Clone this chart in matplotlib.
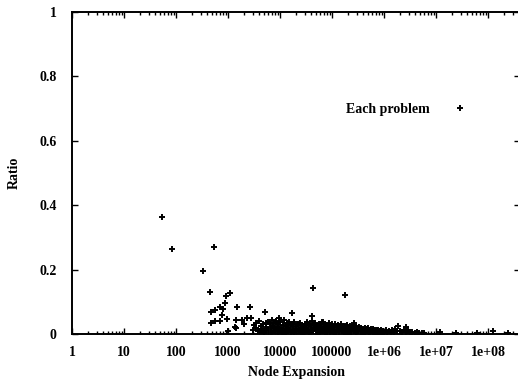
import matplotlib
matplotlib.use("Agg")
import matplotlib.pyplot as plt
import numpy as np
from matplotlib.ticker import FixedLocator, LogLocator, NullFormatter

# ---- data ----
outlier_x = [53, 83, 540, 335, 450, 470, 565, 690, 815, 870, 910, 1090, 780, 565, 705,
             465, 975, 1510, 2620, 5150, 1450, 1900, 2350, 2750, 3400, 3030, 1410, 2030,
             4260, 5270, 9550, 8300, 43700, 178000, 16800, 41800, 1340, 1000, 265000,
             1.85e6, 2.7e6, 1.2e7, 2.4e7, 6.2e7, 1.25e8, 2.4e8]
outlier_y = [0.362, 0.265, 0.271, 0.197, 0.131, 0.067, 0.075, 0.085, 0.077, 0.095, 0.119,
             0.126, 0.059, 0.040, 0.040, 0.033, 0.047, 0.085, 0.083, 0.068, 0.043, 0.043,
             0.051, 0.049, 0.035, 0.012, 0.018, 0.031, 0.012, 0.035, 0.049, 0.038, 0.142,
             0.121, 0.064, 0.057, 0.023, 0.008, 0.033, 0.026, 0.021, 0.007, 0.003, 0.004,
             0.008, 0.003]

band_x = [3200, 3500, 3800, 4000, 4300, 4500, 4700, 5000, 5500, 5800, 6000, 6300, 6600,
          7000, 7200, 7500, 7800, 8100, 8500, 8800, 9000, 9300, 9700,
          10000, 10500, 11000, 11500, 12000, 12500, 13000, 13500, 14000, 14500, 15000,
          15500, 16000, 17000, 17500, 18000, 19000, 19500, 20000, 21000, 22000, 23000,
          24000, 25000, 26000, 27000, 28000, 29000, 30000, 31000,
          32000, 33000, 34000, 35000, 36500, 38000, 39000, 40000, 42000, 43000, 45000,
          47000, 48000, 50000, 52000, 54000, 56000, 58000, 60000, 62000, 64000, 66000,
          68000, 70000, 72000, 75000, 78000, 80000, 83000, 86000, 89000, 92000, 95000, 98000,
          102000, 106000, 110000, 115000, 120000, 125000, 130000, 135000, 140000, 145000,
          150000, 156000, 162000, 168000, 175000, 182000, 190000, 198000, 205000, 213000,
          222000, 230000, 240000, 250000, 260000, 270000, 280000, 292000, 305000, 315000,
          330000, 345000, 360000, 375000, 390000, 410000, 430000, 450000, 470000, 490000,
          510000, 535000, 560000, 585000, 610000, 640000, 670000, 700000, 730000, 770000,
          800000, 840000, 880000, 920000, 960000,
          1.0e6, 1.08e6, 1.15e6, 1.25e6, 1.35e6, 1.45e6, 1.55e6, 1.65e6, 1.75e6, 2.0e6,
          2.2e6, 2.4e6, 2.6e6, 2.9e6, 3.2e6, 3.5e6, 3.9e6, 4.3e6, 4.8e6, 5.3e6, 5.9e6,
          5000, 12000, 25000, 55000, 110000, 200000, 400000, 700000]
band_y = [0.028, 0.020, 0.008, 0.040, 0.025, 0.015, 0.030, 0.005, 0.022, 0.038, 0.012,
          0.030, 0.018, 0.045, 0.026, 0.008, 0.034, 0.016, 0.040, 0.022, 0.004, 0.030, 0.012,
          0.036, 0.020, 0.006, 0.028, 0.042, 0.015, 0.024, 0.033, 0.010, 0.019, 0.038,
          0.027, 0.005, 0.031, 0.014, 0.022, 0.036, 0.009, 0.026, 0.017, 0.030, 0.012,
          0.034, 0.021, 0.004, 0.028, 0.015, 0.024, 0.032, 0.010,
          0.020, 0.036, 0.013, 0.027, 0.006, 0.030, 0.018, 0.024, 0.040, 0.011, 0.028,
          0.019, 0.033, 0.008, 0.024, 0.015, 0.030, 0.021, 0.003, 0.026, 0.036, 0.012,
          0.038, 0.022, 0.031, 0.017, 0.027, 0.007, 0.023, 0.033, 0.014, 0.025, 0.019, 0.030,
          0.010, 0.026, 0.018, 0.032, 0.006, 0.022, 0.028, 0.014, 0.024, 0.019,
          0.030, 0.009, 0.021, 0.026, 0.013, 0.024, 0.017, 0.028, 0.005, 0.020,
          0.025, 0.012, 0.022, 0.016, 0.027, 0.008, 0.019, 0.023, 0.011, 0.018,
          0.022, 0.014, 0.019, 0.007, 0.017, 0.012, 0.020, 0.009, 0.015, 0.018,
          0.004, 0.013, 0.016, 0.008, 0.014, 0.011, 0.003, 0.012, 0.009, 0.013,
          0.006, 0.010, 0.012, 0.004, 0.009,
          0.007, 0.011, 0.004, 0.009, 0.006, 0.012, 0.003, 0.014, 0.008, 0.010,
          0.005, 0.013, 0.007, 0.011, 0.004, 0.006, 0.003, 0.005, 0.002, 0.004, 0.002,
          0.002, 0.001, 0.002, 0.001, 0.002, 0.001, 0.001, 0.002]

# lower part of the dense band (near the baseline)
low_x = [4200, 5300, 6800, 8000, 9500, 11200, 13200, 15800, 18500, 21500, 24500, 28500,
         33500, 38500, 44000, 51000, 57000, 65000, 73000, 82000, 91000, 100000, 112000,
         124000, 138000, 152000, 170000, 188000, 210000, 235000, 262000, 290000, 320000,
         355000, 395000, 440000, 495000, 550000, 620000, 690000, 780000, 870000]
low_y = [0.010, 0.016, 0.006, 0.010, 0.018, 0.013, 0.005, 0.012, 0.004, 0.008, 0.012,
         0.006, 0.009, 0.004, 0.008, 0.014, 0.006, 0.009, 0.004, 0.012, 0.006, 0.016,
         0.005, 0.011, 0.006, 0.014, 0.005, 0.009, 0.012, 0.005, 0.010, 0.004, 0.008,
         0.011, 0.004, 0.007, 0.010, 0.006, 0.004, 0.007, 0.003, 0.006]

x_ticks = [1, 10, 100, 1000, 1e4, 1e5, 1e6, 1e7, 1e8]
x_labels = ["1", "10", "100", "1000", "10000", "100000", "1e+06", "1e+07", "1e+08"]
y_ticks = [0, 0.2, 0.4, 0.6, 0.8, 1]
y_labels = ["0", "0.2", "0.4", "0.6", "0.8", "1"]

xs = outlier_x + band_x + low_x
ys = outlier_y + band_y + low_y

FONT = "Liberation Serif"
plt.rcParams["font.family"] = [FONT, "DejaVu Serif"]
plt.rcParams["font.weight"] = "bold"

W, H = 518, 381
fig = plt.figure(figsize=(W / 100, H / 100), dpi=100)
ax = fig.add_axes([72 / W, 1 - 334 / H, (520 - 72) / W, (334 - 12) / H])

ax.plot(xs, ys, linestyle="none", marker="+", color="black",
        markersize=4.8, markeredgewidth=1.4, label="Each problem", clip_on=True)

ax.set_xscale("log")
ax.set_xlim(1, 10 ** ((520 - 72) / 52.0))
ax.set_ylim(0, 1)

ax.xaxis.set_major_locator(FixedLocator(x_ticks))
ax.set_xticklabels(x_labels)
ax.xaxis.set_minor_locator(LogLocator(base=10, subs=np.arange(2, 10), numticks=30))
ax.xaxis.set_minor_formatter(NullFormatter())
ax.set_yticks(y_ticks)
ax.set_yticklabels(y_labels)

ax.tick_params(which="both", direction="in", top=True, right=True, labelsize=10,
               width=1.0, colors="black")
ax.tick_params(which="major", length=4)
ax.tick_params(which="minor", length=2)
ax.tick_params(axis="x", which="major", pad=9)
ax.tick_params(axis="y", which="major", pad=11)
for s in ax.spines.values():
    s.set_linewidth(1.4)

ax.set_xlabel("Node Expansion", fontsize=10, fontweight="bold", labelpad=5)
ax.set_ylabel("Ratio", fontsize=10, fontweight="bold", labelpad=13)

leg = ax.legend(loc="center right", bbox_to_anchor=(474 / W, 1 - 109 / H),
                bbox_transform=fig.transFigure, frameon=False, markerfirst=False,
                handlelength=2, handletextpad=1.2, borderpad=0, borderaxespad=0,
                prop={"family": FONT, "weight": "bold", "size": 10})

fig.savefig("out.png", dpi=100)
